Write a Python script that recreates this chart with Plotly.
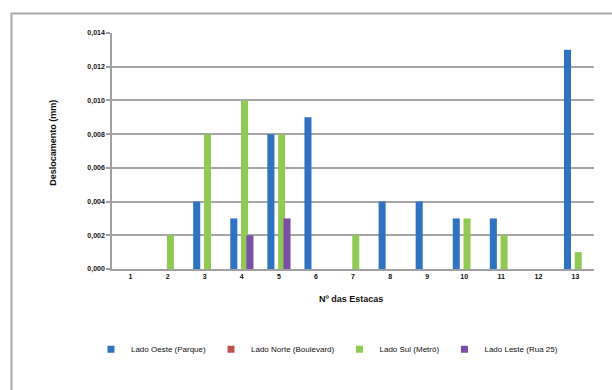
import plotly.graph_objects as go

estacas = list(range(1, 14))
tick_labels = [str(i) for i in estacas]

oeste = [0, 0, 0.004, 0.003, 0.008, 0.009, 0, 0.004, 0.004, 0.003, 0.003, 0, 0.013]
norte = [0, 0, 0, 0, 0, 0, 0, 0, 0, 0, 0, 0, 0]
sul = [0, 0.002, 0.008, 0.010, 0.008, 0, 0.002, 0, 0, 0.003, 0.002, 0, 0.001]
leste = [0, 0, 0, 0.002, 0.003, 0, 0, 0, 0, 0, 0, 0, 0]

y_ticks = [0, 0.002, 0.004, 0.006, 0.008, 0.010, 0.012, 0.014]

series = [
    ("Lado Oeste (Parque)", oeste, "#2f72bf"),
    ("Lado Norte (Boulevard)", norte, "#c0504d"),
    ("Lado Sul (Metrô)", sul, "#92c955"),
    ("Lado Leste (Rua 25)", leste, "#7b4fa6"),
]
offsets = [-0.31, -0.165, -0.02, 0.125]
bar_w = 0.19

fig = go.Figure()
for (name, vals, col), off in zip(series, offsets):
    fig.add_trace(go.Bar(
        x=estacas, y=vals, name=name, showlegend=False, legendgroup=name,
        marker=dict(color=col, line=dict(width=0)),
        width=bar_w, offset=off,
    ))
# small square legend keys (same series, legend only)
for name, vals, col in series:
    fig.add_trace(go.Scatter(
        x=[None], y=[None], mode="markers", name=name, legendgroup=name,
        marker=dict(symbol="square", size=7, color=col), hoverinfo="skip",
    ))

FONT = "Liberation Sans, Arial, sans-serif"

fig.update_layout(
    width=612, height=390,
    margin=dict(l=112, r=18, t=33, b=121, pad=0),
    paper_bgcolor="white", plot_bgcolor="white",
    barmode="overlay",
    separators=",.",
    font=dict(family=FONT, size=7, color="#111"),
    showlegend=True,
    legend=dict(
        orientation="h", x=0.446, xanchor="center", y=-0.34, yanchor="middle",
        font=dict(size=8, color="#111"), itemwidth=30, traceorder="normal",
        itemsizing="trace",
    ),
    xaxis=dict(
        range=[0.5, 13.5], tickvals=estacas,
        ticktext=["<b>%s</b>" % t for t in tick_labels],
        showgrid=False, showline=True, linecolor="#a0a0a0", linewidth=1.5,
        ticks="", tickfont=dict(size=7, color="#111"), zeroline=False,
    ),
    yaxis=dict(
        range=[0, 0.014], tickvals=y_ticks,
        ticktext=["<b>%s</b>" % ("%.3f" % v).replace(".", ",") for v in y_ticks],
        showgrid=True, gridcolor="#a6a6a6", gridwidth=1.5,
        showline=True, linecolor="#a0a0a0", linewidth=1.5,
        ticks="outside", ticklen=4, tickcolor="#a0a0a0", tickwidth=1.5,
        tickfont=dict(size=7, color="#111"), zeroline=False,
    ),
    shapes=[dict(
        type="rect", xref="paper", yref="paper",
        x0=-0.2085, x1=1.2, y0=-0.7, y1=1.083,
        line=dict(color="#aaaaaa", width=2), layer="below",
    )],
    annotations=[
        dict(text="<b>Deslocamento (mm)</b>", xref="paper", yref="paper",
             x=-0.1224, y=0.535, textangle=-90, showarrow=False,
             font=dict(size=9, color="#111"), xanchor="center", yanchor="middle"),
        dict(text="<b>Nº das Estacas</b>", xref="paper", yref="paper",
             x=0.495, y=-0.127, showarrow=False,
             font=dict(size=9, color="#111"), xanchor="center", yanchor="middle"),
    ],
)

fig.write_html("out.html")
